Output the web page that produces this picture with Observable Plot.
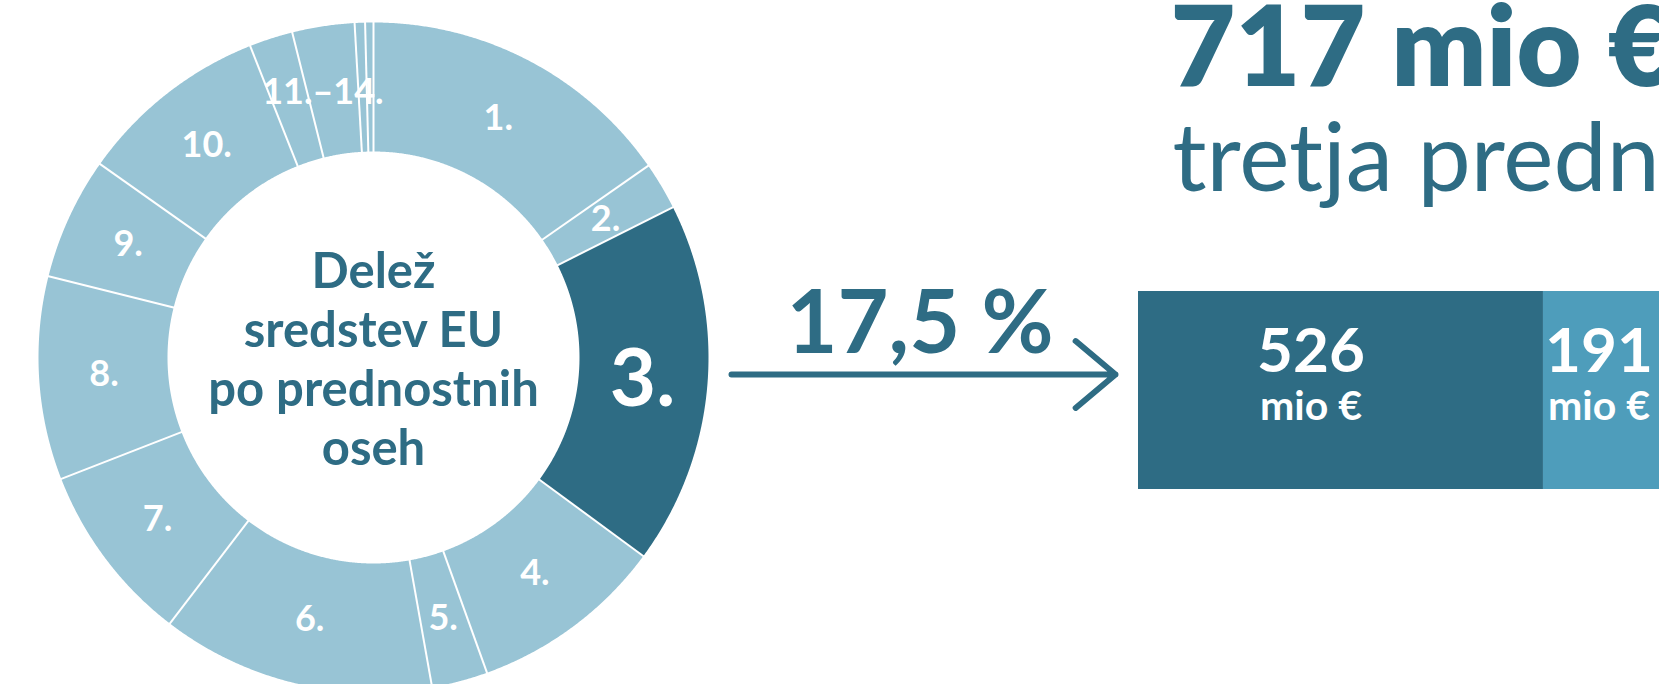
<!DOCTYPE html>
<html><head><meta charset="utf-8">
<script src="https://cdn.jsdelivr.net/npm/d3@7"></script>
<script src="https://cdn.jsdelivr.net/npm/@observablehq/plot@0.6"></script>
<style>
html,body{margin:0;padding:0;background:#fff;overflow:hidden;}
#wrap{position:relative;width:1659px;height:684px;overflow:hidden;background:#fff;}
#wrap svg{position:absolute;left:0;top:0;}
</style></head><body><div id="wrap"></div>
<script>
// ---- data ----
const axisLabels = ["1.","2.","3.","4.","5.","6.","7.","8.","9.","10.","11.","12.","13.","14."];
const shares = [15.3, 2.3, 17.5, 9.4, 2.7, 13.2, 8.7, 9.8, 5.9, 9.2, 2.1, 3.0, 0.5, 0.4];
const highlightAxis = "3.";
const groupedAxes = ["11.","12.","13.","14."];
const groupedLabel = "11.–14.";
const centerTitle = ["Delež", "sredstev EU", "po prednostnih", "oseh"];
const shareLabel = "17,5 %";
const totalLabel = "717 mio €";
const subtitleLabel = "tretja prednostna os";
const barKeys = ["a", "b"];
const barValues = [526, 191];
const barUnit = "mio €";

// ---- styling / layout ----
const dark = "#2e6c84", light = "#98c4d5", mid = "#4e9dbb";
const font = "Lato, 'Open Sans', sans-serif";
const cx = 373, cy = 357, R = 335, r0 = 206, rLabel = 270;

const total = d3.sum(shares);
let acc = 0;
const slices = shares.map((v, i) => {
  const a0 = acc / total * 2 * Math.PI; acc += v;
  const a1 = acc / total * 2 * Math.PI;
  return {axis: axisLabels[i], value: v, a0, a1};
});
const pts = [];
for (const s of slices) {
  const n = Math.max(2, Math.ceil((s.a1 - s.a0) / (Math.PI / 720)));
  const col = s.axis === highlightAxis ? dark : light;
  for (let k = 0; k <= n; k++) {
    const a = s.a0 + (s.a1 - s.a0) * k / n;
    pts.push({axis: s.axis, color: col, x: cx + R * Math.sin(a), y: cy - R * Math.cos(a)});
  }
  for (let k = n; k >= 0; k--) {
    const a = s.a0 + (s.a1 - s.a0) * k / n;
    pts.push({axis: s.axis, color: col, x: cx + r0 * Math.sin(a), y: cy - r0 * Math.cos(a)});
  }
}
const seps = slices.map(s => ({
  x1: cx + (r0 - 2) * Math.sin(s.a0), y1: cy - (r0 - 2) * Math.cos(s.a0),
  x2: cx + (R + 2) * Math.sin(s.a0), y2: cy - (R + 2) * Math.cos(s.a0)
}));
const labelItems = [];
for (const s of slices) {
  if (groupedAxes.includes(s.axis)) continue;
  const a = (s.a0 + s.a1) / 2;
  labelItems.push({text: s.axis, big: s.axis === highlightAxis, x: cx + rLabel * Math.sin(a), y: cy - rLabel * Math.cos(a)});
}
{
  const g = slices.filter(s => groupedAxes.includes(s.axis));
  const a = (g[0].a0 + g[g.length - 1].a1) / 2;
  labelItems.push({text: groupedLabel, big: false, x: cx + rLabel * Math.sin(a), y: cy - rLabel * Math.cos(a)});
}

const donut = Plot.plot({
  width: 1659, height: 684, margin: 0,
  x: {type: "identity", axis: null}, y: {type: "identity", axis: null},
  style: {fontFamily: font, background: "transparent"},
  marks: [
    Plot.line(pts, {x: "x", y: "y", z: "axis", fill: "color", stroke: null, curve: "linear"}),
    Plot.link(seps, {x1: "x1", y1: "y1", x2: "x2", y2: "y2", stroke: "white", strokeWidth: 2}),
    Plot.text(labelItems.filter(d => !d.big), {x: "x", y: "y", text: "text", fill: "white", fontSize: 36, fontWeight: 700}),
    Plot.text(labelItems.filter(d => d.big), {x: "x", y: "y", text: "text", fill: "white", fontSize: 80, fontWeight: 700}),
    Plot.text([centerTitle.join("\n")], {x: [cx], y: [cy], text: d => d, fill: dark, fontSize: 49, fontWeight: 700, lineHeight: 1.2, lineAnchor: "middle"}),
    Plot.arrow([0], {x1: [731], y1: [374], x2: [1115], y2: [374], stroke: dark, strokeWidth: 6, headAngle: 80, headLength: 13}),
    Plot.text([shareLabel], {x: [786], y: [352], text: d => d, fill: dark, fontSize: 88, fontWeight: 700, textAnchor: "start", lineAnchor: "bottom"}),
    Plot.text([totalLabel], {x: [1170], y: [85], text: d => d, fill: dark, fontSize: 112, fontWeight: 800, textAnchor: "start", lineAnchor: "bottom"}),
    Plot.text([subtitleLabel], {x: [1172], y: [190], text: d => d, fill: dark, fontSize: 95, fontWeight: 400, textAnchor: "start", lineAnchor: "bottom"})
  ]
});

const barData = barKeys.map((k, i) => ({key: k, value: barValues[i], color: i === 0 ? dark : mid}));
const bar = Plot.plot({
  width: 1659, height: 684,
  marginTop: 291, marginBottom: 195, marginLeft: 0, marginRight: 0,
  x: {domain: [0, d3.sum(barValues)], range: [1138, 1690], axis: null},
  y: {axis: null},
  style: {fontFamily: font, background: "transparent", overflow: "hidden"},
  marks: [
    Plot.barX(barData, Plot.stackX({x: "value", fill: "color"})),
    Plot.text(barData, Plot.stackX({x: "value", text: d => d.key === "a" ? String(d.value) : null, fill: "white", fontSize: 62, fontWeight: 700, lineAnchor: "bottom", dy: -19, dx: -30})),
    Plot.text(barData, Plot.stackX({x: "value", text: d => d.key === "a" ? barUnit : null, fill: "white", fontSize: 41, fontWeight: 700, lineAnchor: "bottom", dy: 29, dx: -30})),
    Plot.text(barData, Plot.stackX({x: "value", text: d => d.key === "b" ? String(d.value) : null, fill: "white", fontSize: 62, fontWeight: 700, lineAnchor: "bottom", dy: -19, dx: -18})),
    Plot.text(barData, Plot.stackX({x: "value", text: d => d.key === "b" ? barUnit : null, fill: "white", fontSize: 41, fontWeight: 700, lineAnchor: "bottom", dy: 29, dx: -18}))
  ]
});
const wrap = document.getElementById("wrap");
wrap.appendChild(donut);
wrap.appendChild(bar);
</script>
</body></html>
